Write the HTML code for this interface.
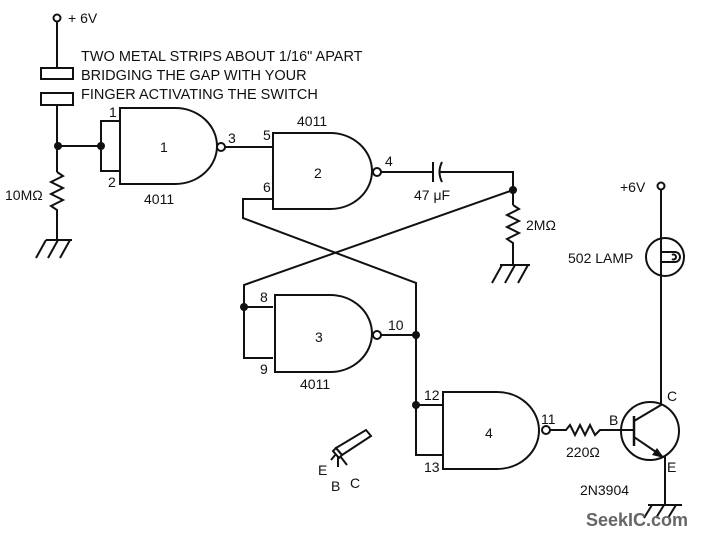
<!DOCTYPE html>
<html><head><meta charset="utf-8"><style>
html,body{margin:0;padding:0;background:#fff;}
svg{display:block;}
text{font-family:"Liberation Sans",sans-serif;font-size:14px;fill:#111;}
</style></head><body>
<svg width="706" height="536" viewBox="0 0 706 536" xmlns="http://www.w3.org/2000/svg">
<g stroke="#111" stroke-width="2" fill="none">
<circle cx="57" cy="18" r="3.5"/>
<line x1="57" y1="22" x2="57" y2="68"/>
<rect x="41" y="68" width="32" height="11"/>
<rect x="41" y="93" width="32" height="12"/>
<line x1="57" y1="105" x2="57" y2="172"/>
<polyline points="57,172 63,176 51,182 63,188 51,194 63,200 51,206 57,210 57,240"/>
<line x1="46" y1="240" x2="72" y2="240"/>
<line x1="46" y1="240" x2="36" y2="258"/><line x1="58" y1="240" x2="48" y2="258"/><line x1="70" y1="240" x2="60" y2="258"/>
<line x1="57" y1="146" x2="101" y2="146"/>
<path d="M120,108 H175 A42,38 0 0 1 175,184 H120 Z"/>
<circle cx="221" cy="147" r="4"/>
<polyline points="120,121 101,121 101,171 120,171"/>
<line x1="225" y1="147" x2="273" y2="147"/>
<path d="M273,133 H330 A42,38 0 0 1 330,209 H273 Z"/>
<circle cx="377" cy="172" r="4"/>
<line x1="381" y1="172" x2="433" y2="172"/>
<line x1="433" y1="162" x2="433" y2="182"/>
<path d="M442,162 Q437,172 442,182"/>
<polyline points="440,172 513,172 513,205"/>
<polyline points="513,205 519,209 507,215 519,221 507,227 519,233 507,239 513,243 513,265"/>
<line x1="500" y1="265" x2="530" y2="265"/>
<line x1="502" y1="265" x2="492" y2="283"/><line x1="515" y1="265" x2="505" y2="283"/><line x1="528" y1="265" x2="518" y2="283"/>
<polyline points="273,199 243,199 243,218 416,283 416,405"/>
<polyline points="513,190 244,285 244,358 273,358"/>
<line x1="244" y1="307" x2="273" y2="307"/>
<path d="M275,295 H330 A42,38.5 0 0 1 330,372 H275 Z"/>
<circle cx="377" cy="335" r="4"/>
<line x1="381" y1="335" x2="416" y2="335"/>
<path d="M443,392 H497 A42,38.5 0 0 1 497,469 H443 Z"/>
<circle cx="546" cy="430" r="4"/>
<polyline points="416,405 443,405"/>
<polyline points="416,405 416,455 443,455"/>
<polyline points="550,430 566,430 570,425 575,435 580,425 585,435 590,425 595,435 600,430 634,430"/>
<circle cx="650" cy="431" r="29"/>
<line x1="634" y1="416" x2="634" y2="446" stroke-width="2.5"/>
<polyline points="661,190 661,405 634,421"/>
<line x1="634" y1="437" x2="662" y2="456"/>
<line x1="665" y1="456" x2="665" y2="505"/>
<line x1="648" y1="505" x2="682" y2="505"/>
<line x1="652" y1="505" x2="644" y2="518"/><line x1="664" y1="505" x2="656" y2="518"/><line x1="676" y1="505" x2="668" y2="518"/>
<circle cx="661" cy="186" r="3.5"/>
<circle cx="665" cy="257" r="19"/>
<path d="M661,252 H675 A5,5 0 0 1 675,262 H661"/>
<path d="M672,255 A2.5,2.5 0 1 1 672,259"/>
<path d="M336,448 L366,430 L371,436 L342,455 Z"/>
<path d="M336,448 L342,455 L339,458 L333,451 Z"/>
<line x1="336" y1="454" x2="331" y2="460"/><line x1="338" y1="456" x2="338" y2="467"/><line x1="340" y1="456" x2="347" y2="465"/>
</g>
<g fill="#111">
<circle cx="58" cy="146" r="4"/><circle cx="101" cy="146" r="4"/>
<circle cx="513" cy="190" r="4"/><circle cx="244" cy="307" r="4"/>
<circle cx="416" cy="335" r="4"/><circle cx="416" cy="405" r="4"/>
<polygon points="664,458 652,455 657,448"/>
</g>
<text x="68" y="23">+ 6V</text>
<text x="81" y="61" style="font-size:14.5px">TWO METAL STRIPS ABOUT 1/16" APART</text>
<text x="81" y="80" style="font-size:14.5px">BRIDGING THE GAP WITH YOUR</text>
<text x="81" y="99" style="font-size:14.5px">FINGER ACTIVATING THE SWITCH</text>
<text x="109" y="117" font-size="13">1</text>
<text x="108" y="187" font-size="13">2</text>
<text x="160" y="152">1</text>
<text x="144" y="204">4011</text>
<text x="228" y="143">3</text>
<text x="263" y="140">5</text>
<text x="297" y="126">4011</text>
<text x="314" y="178">2</text>
<text x="263" y="192">6</text>
<text x="385" y="166">4</text>
<text x="5" y="200">10MΩ</text>
<text x="414" y="200">47 μF</text>
<text x="526" y="230">2MΩ</text>
<text x="260" y="302">8</text>
<text x="260" y="374">9</text>
<text x="315" y="342">3</text>
<text x="300" y="389">4011</text>
<text x="388" y="330">10</text>
<text x="424" y="400">12</text>
<text x="424" y="472">13</text>
<text x="485" y="438">4</text>
<text x="541" y="424">11</text>
<text x="566" y="457">220Ω</text>
<text x="609" y="425">B</text>
<text x="667" y="401">C</text>
<text x="667" y="472">E</text>
<text x="580" y="495">2N3904</text>
<text x="620" y="192">+6V</text>
<text x="568" y="263">502 LAMP</text>
<text x="318" y="475">E</text>
<text x="331" y="491">B</text>
<text x="350" y="488">C</text>
<text x="586" y="526" style="font-size:18px;font-weight:bold;fill:#666">SeekIC.com</text>
</svg>
</body></html>
